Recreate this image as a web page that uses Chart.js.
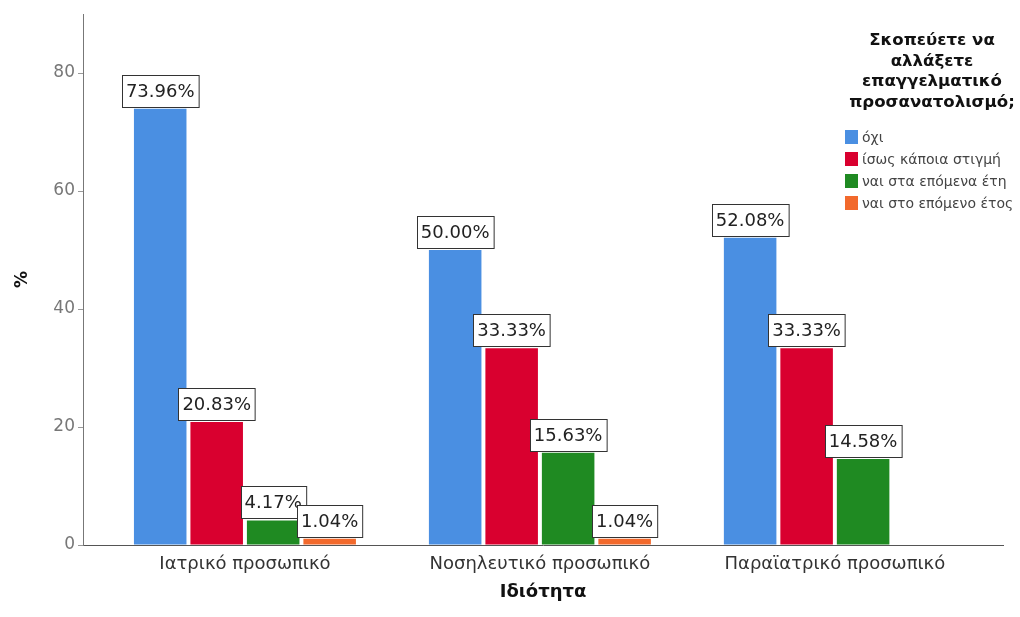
<!DOCTYPE html>
<html>
<head>
<meta charset="utf-8">
<script src="https://cdn.jsdelivr.net/npm/chart.js@4"></script>
<style>
  body { margin: 0; background: #fff; }
  #wrap { position: relative; width: 1020px; height: 617px; font-family: "DejaVu Sans", sans-serif; }
  #legend { position: absolute; left: 842px; top: 30px; width: 180px; }
  #legend .title { font-weight: bold; font-size: 16.6px; line-height: 20.7px; text-align: center; color: #111; }
  #legend .items { margin-top: 13px; }
  #legend .item { height: 22px; line-height: 22px; font-size: 14px; color: #444; white-space: nowrap; }
  #legend .sw { display: inline-block; width: 13px; height: 14px; vertical-align: -2px; margin: 0 4px 0 3px; }
</style>
</head>
<body>
<div id="wrap">
  <canvas id="chart" width="1020" height="617"></canvas>
  <div id="legend"></div>
</div>
<script>
const categories = ["Ιατρικό προσωπικό", "Νοσηλευτικό προσωπικό", "Παραϊατρικό προσωπικό"];
const seriesNames = ["όχι", "ίσως κάποια στιγμή", "ναι στα επόμενα έτη", "ναι στο επόμενο έτος"];
const oxi = [73.96, 50.00, 52.08];
const isos = [20.83, 33.33, 33.33];
const naiEti = [4.17, 15.63, 14.58];
const naiEtos = [1.04, 1.04, 0];
const yTicks = [0, 20, 40, 60, 80];
const legendTitle = ["Σκοπεύετε να", "αλλάξετε", "επαγγελματικό", "προσανατολισμό;"];

const colors = ["#4a8fe2", "#d9002f", "#1f8a22", "#f2692c"];
const font = '"DejaVu Sans", sans-serif';

const series = [oxi, isos, naiEti, naiEtos];

// legend as html, sits inside the plot area like the original
let lg = document.getElementById("legend");
let html = '<div class="title">' + legendTitle.join("<br>") + '</div><div class="items">';
for (let i = 0; i < seriesNames.length; i++) {
  html += '<div class="item"><span class="sw" style="background:' + colors[i] + '"></span>' + seriesNames[i] + '</div>';
}
lg.innerHTML = html + '</div>';

const boxLabels = {
  id: "boxLabels",
  afterDatasetsDraw(chart) {
    const ctx = chart.ctx;
    ctx.save();
    ctx.font = "18px " + font;
    ctx.textAlign = "center";
    ctx.textBaseline = "middle";
    chart.data.datasets.forEach((ds, di) => {
      const meta = chart.getDatasetMeta(di);
      meta.data.forEach((bar, i) => {
        const v = ds.data[i].y;
        if (!v) return;
        const txt = v.toFixed(2) + "%";
        const w = ctx.measureText(txt).width + 8;
        const h = 32;
        const x = Math.round(bar.x - w / 2) + 0.5;
        const y = Math.round(bar.y - 2 - h) + 0.5;
        ctx.fillStyle = "#fff";
        ctx.fillRect(x, y, w, h);
        ctx.strokeStyle = "#333";
        ctx.lineWidth = 1;
        ctx.strokeRect(x, y, w, h);
        ctx.fillStyle = "#222";
        ctx.fillText(txt, bar.x, y + h / 2 + 1);
      });
    });
    ctx.restore();
  }
};

new Chart(document.getElementById("chart"), {
  type: "bar",
  data: {
    datasets: series.map((vals, s) => ({
      label: seriesNames[s],
      data: vals.map((v, i) => ({ x: i, y: v })),
      backgroundColor: colors[s],
      borderWidth: 0,
      categoryPercentage: 0.766,
      barPercentage: 0.93,
    })),
  },
  options: {
    responsive: false,
    devicePixelRatio: 1,
    animation: false,
    layout: { padding: { top: 14, right: 17, left: 0, bottom: 0 } },
    plugins: {
      legend: { display: false },
      tooltip: { enabled: false },
    },
    scales: {
      x: {
        type: "linear",
        offset: false,
        min: -0.549,
        max: 2.57,
        afterBuildTicks: (s) => { s.ticks = categories.map((c, i) => ({ value: i })); },
        afterFit: (s) => { s.height = 72; },
        ticks: {
          callback: (v) => categories[v],
          font: { family: font, size: 18 },
          color: "#333",
          padding: 9,
          maxRotation: 0,
          autoSkip: false,
        },
        grid: { display: false, drawTicks: false, offset: false },
        border: { display: true, color: "#555", width: 1 },
        title: {
          display: true,
          text: "Ιδιότητα",
          font: { family: font, size: 18, weight: "bold" },
          color: "#111",
          padding: { top: 0, bottom: 14 },
        },
      },
      y: {
        min: 0,
        max: 90,
        afterBuildTicks: (s) => { s.ticks = yTicks.map((v) => ({ value: v })); },
        afterFit: (s) => { s.width = 83; },
        ticks: {
          font: { family: font, size: 17 },
          color: "#777",
          padding: 3,
        },
        grid: { drawOnChartArea: false, drawTicks: true, tickLength: 5, color: "#999" },
        border: { display: true, color: "#777", width: 1 },
        title: {
          display: true,
          text: "%",
          font: { family: font, size: 17, weight: "bold" },
          color: "#111",
          padding: { top: 12, bottom: 0 },
        },
      },
    },
  },
  plugins: [boxLabels],
});
</script>
</body>
</html>
